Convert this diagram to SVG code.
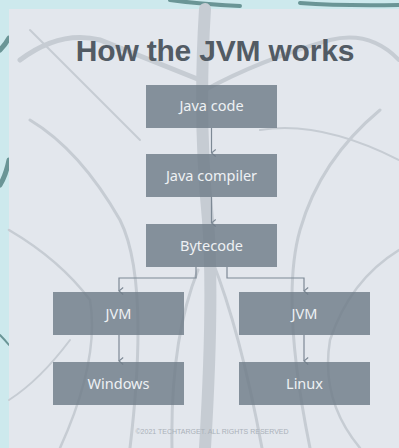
<svg xmlns="http://www.w3.org/2000/svg" width="399" height="448" viewBox="0 0 399 448">
<style>
.box{fill:#6f7c89;fill-opacity:0.82}
.lbl{font-family:"Noto Sans","Open Sans",sans-serif;font-size:14.5px;fill:#eef1f4;text-anchor:middle}
.con{fill:none;stroke:#7d8995;stroke-width:1.2}
.root{fill:none;stroke:#c6ccd3;stroke-linecap:round}
.oroot{fill:none;stroke:#6a9596;stroke-linecap:round}
</style>
<defs>
<marker id="arr" viewBox="0 0 8 6" refX="4" refY="5" markerWidth="8" markerHeight="6" markerUnits="userSpaceOnUse" orient="auto-start-reverse">
<path d="M0.5,0.8 L4,5 L7.5,0.8" fill="none" stroke="#7d8995" stroke-width="1.1"/>
</marker>
</defs>
<g id="background">
<rect x="0" y="0" width="399" height="448" fill="#cde9ed"/>
<path class="oroot" stroke-width="5" d="M0,50 Q5,45 9,38"/>
<path class="oroot" stroke-width="5" d="M0,185 Q6,175 9,160"/>
<path class="oroot" stroke-width="2" d="M0,335 Q5,340 9,345"/>
<path class="oroot" stroke-width="4" d="M170,0 Q200,4 240,6 M300,3 Q340,6 399,5"/>
<rect x="9" y="9" width="390" height="439" fill="#e3e7ed"/>
<path class="root" stroke-width="12" stroke="#bfc6ce" d="M205,9 Q198,120 208,220 Q214,300 205,448"/>
<path class="root" stroke-width="5" d="M200,80 Q150,60 100,40 Q60,30 20,60"/>
<path class="root" stroke-width="4" d="M205,90 Q260,60 330,40 Q370,30 399,60"/>
<path class="root" stroke-width="3" d="M30,120 Q80,150 120,220 Q150,280 130,448"/>
<path class="root" stroke-width="3" d="M380,110 Q320,160 300,230 Q280,300 310,448"/>
<path class="root" stroke-width="2.5" d="M9,230 Q60,260 90,300 Q100,360 60,448"/>
<path class="root" stroke-width="2.5" d="M399,250 Q350,280 330,340 Q320,400 360,448"/>
<path class="root" stroke-width="3" d="M212,260 Q240,330 262,448"/>
<path class="root" stroke-width="3" d="M198,270 Q170,340 172,448"/>
<path class="root" stroke-width="2" d="M30,30 Q90,90 140,140"/>
<path class="root" stroke-width="2" d="M260,130 Q320,120 399,160"/>
<path class="root" stroke-width="2" d="M9,400 Q40,380 70,340"/>
</g>
<text x="215" y="61" font-family="'Liberation Sans',Arial,sans-serif" font-size="30" font-weight="bold" fill="#525b64" text-anchor="middle" letter-spacing="-0.2">How the JVM works</text>
<g id="connectors">
<line class="con" x1="211.5" y1="128" x2="211.5" y2="153" marker-end="url(#arr)"/>
<line class="con" x1="211.5" y1="197" x2="211.5" y2="223" marker-end="url(#arr)"/>
<polyline class="con" points="196,267 196,278 119,278 119,291" marker-end="url(#arr)"/>
<polyline class="con" points="227,267 227,278 304,278 304,291" marker-end="url(#arr)"/>
<line class="con" x1="119" y1="335" x2="119" y2="361" marker-end="url(#arr)"/>
<line class="con" x1="304" y1="335" x2="304" y2="361" marker-end="url(#arr)"/>
</g>
<g id="java-code"><rect class="box" x="146" y="85" width="131" height="43"/><text class="lbl" x="211.5" y="111">Java code</text></g>
<g id="java-compiler"><rect class="box" x="146" y="154" width="131" height="43"/><text class="lbl" x="211.5" y="181">Java compiler</text></g>
<g id="bytecode"><rect class="box" x="146" y="224" width="131" height="43"/><text class="lbl" x="211.5" y="251">Bytecode</text></g>
<g id="jvm-left"><rect class="box" x="53" y="292" width="131" height="43"/><text class="lbl" x="118.5" y="319">JVM</text></g>
<g id="jvm-right"><rect class="box" x="239" y="292" width="131" height="43"/><text class="lbl" x="304.5" y="319">JVM</text></g>
<g id="windows"><rect class="box" x="53" y="362" width="131" height="43"/><text class="lbl" x="118.5" y="389">Windows</text></g>
<g id="linux"><rect class="box" x="239" y="362" width="131" height="43"/><text class="lbl" x="304.5" y="389">Linux</text></g>
<text x="212" y="434" font-family="'Liberation Sans',Arial,sans-serif" font-size="7" fill="#aab1b9" text-anchor="middle">©2021 TECHTARGET. ALL RIGHTS RESERVED</text>
</svg>
